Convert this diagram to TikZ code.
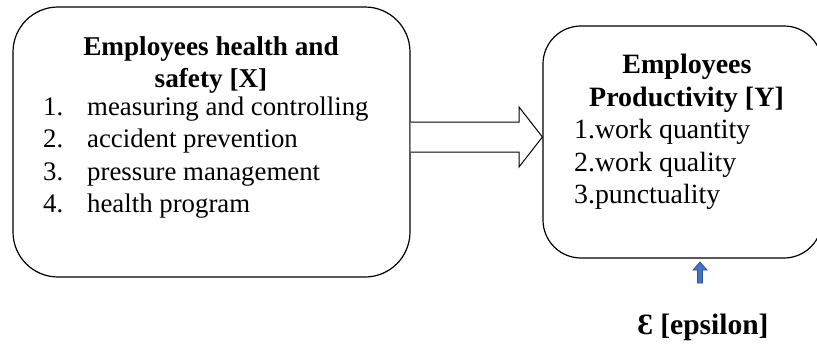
\documentclass[tikz,border=0pt]{standalone}
\usepackage{fontspec}
\setmainfont{Liberation Serif}
\begin{document}
\begin{tikzpicture}[x=1pt,y=-1pt,
  box/.style={draw=black, line width=1.2pt, inner sep=0pt},
  ltxt/.style={anchor=base west, inner sep=0pt, font=\fontsize{26.8}{30}\selectfont},
  lhead/.style={anchor=base, inner sep=0pt, font=\fontsize{27.2}{30}\selectfont\bfseries},
  rtxt/.style={anchor=base west, inner sep=0pt, font=\fontsize{27.8}{30}\selectfont},
  rhead/.style={anchor=base, inner sep=0pt, font=\fontsize{28}{30}\selectfont\bfseries},
  blockarrow/.style={draw=black, line width=1pt, fill=white, line join=miter},
  bluearrow/.style={line width=0.7pt, line join=miter}
]
\definecolor{arrowblue}{HTML}{4472C4}
\definecolor{arrowedge}{HTML}{2F528F}
\useasboundingbox (0,0) rectangle (817,343);
\fill[white] (0,0) rectangle (817,343);

% boxes
\node[box, rounded corners=45pt, minimum width=397pt, minimum height=270pt] (X) at (211.5,142) {};
\node[box, rounded corners=38pt, minimum width=279pt, minimum height=232pt] (Y) at (682.5,142) {};

% left texts
\node[lhead] (xh1) at (211,55) {Employees health and};
\node[lhead] (xh2) at (211,87) {safety [X]};
\node[ltxt] (xn1) at (43,115) {1.};
\node[ltxt] (xi1) at (87,115) {measuring and controlling};
\node[ltxt] (xn2) at (43,147) {2.};
\node[ltxt] (xi2) at (87,147) {accident prevention};
\node[ltxt] (xn3) at (43,180) {3.};
\node[ltxt] (xi3) at (87,180) {pressure management};
\node[ltxt] (xn4) at (43,212) {4.};
\node[ltxt] (xi4) at (87,212) {health program};

% right texts
\node[rhead] (yh1) at (687,73) {Employees};
\node[rhead] (yh2) at (686.5,106) {Productivity [Y]};
\node[rtxt] (yi1) at (574,138) {1.work quantity};
\node[rtxt] (yi2) at (574,171) {2.work quality};
\node[rtxt] (yi3) at (574,203) {3.punctuality};

% epsilon
\node[anchor=base, inner sep=0pt, font=\fontsize{29.5}{32}\selectfont\bfseries] (eps) at (703,334) {Ɛ [epsilon]};

% block arrow X -> Y
\coordinate (a0) at (X.east |- 0,122);
\coordinate (a1) at (X.east |- 0,152);
\coordinate (tip) at (Y.west |- 0,137);
\draw[blockarrow] (a0) -- (519,122) -- (519,107) -- (tip) -- (519,167) -- (519,152) -- (a1);

% small blue arrow eps -> Y
\coordinate (bt) at (700,262);
\draw[bluearrow, draw=arrowedge, fill=arrowblue]
  (697.5,283) -- (697.5,270) -- (693,270) -- (bt) -- (707,270) -- (702.5,270) -- (702.5,283) -- cycle;
\end{tikzpicture}
\end{document}
